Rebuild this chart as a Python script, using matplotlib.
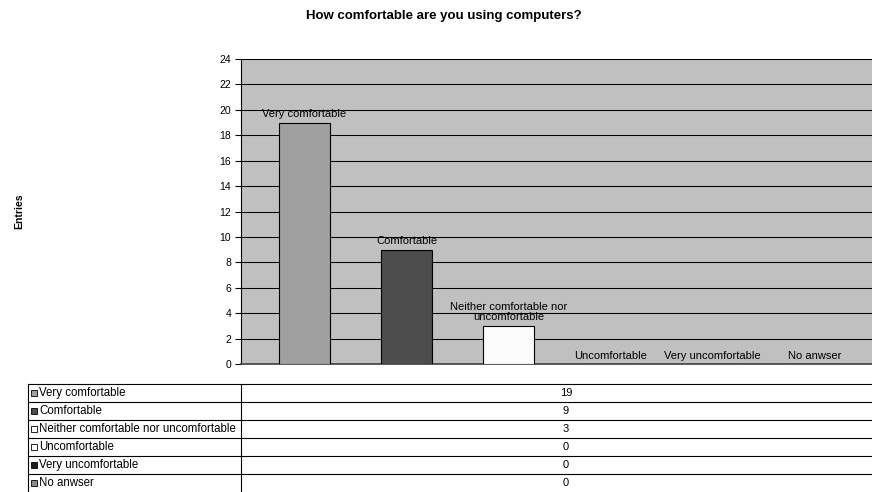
import matplotlib.pyplot as plt
from matplotlib.patches import Rectangle

plt.rcParams['font.family'] = ['Liberation Sans', 'DejaVu Sans']

# данные
categories = ["Very comfortable", "Comfortable", "Neither comfortable nor uncomfortable",
              "Uncomfortable", "Very uncomfortable", "No anwser"]
bar_labels = ["Very comfortable", "Comfortable", "Neither comfortable nor\nuncomfortable",
              "Uncomfortable", "Very uncomfortable", "No anwser"]
entries = [19, 9, 3, 0, 0, 0]
colors = ["#a0a0a0", "#4d4d4d", "#fcfcfc", "#ffffff", "#1e1e1e", "#8c8c8c"]
yticks = list(range(0, 25, 2))

W, H = 872, 492
fig = plt.figure(figsize=(W / 100, H / 100), dpi=100)

# основная область графика
ax = fig.add_axes([241 / W, 1 - 364 / H, (W - 241) / W, (364 - 59) / H])
ax.set_facecolor("#c0c0c0")
x = list(range(len(categories)))
bars = ax.bar(x, entries, width=0.5, color=colors, edgecolor="black", linewidth=0.8, zorder=3)
ax.set_xlim(-0.623, 5.564)
ax.set_ylim(0, 24)
ax.set_yticks(yticks)
ax.yaxis.grid(True, color="black", linewidth=0.75, zorder=1)
ax.set_axisbelow(True)
ax.set_xticks([])
ax.tick_params(axis="y", direction="out", length=4, width=0.8, labelsize=7.5, pad=3)
for s in ["top", "right"]:
    ax.spines[s].set_visible(False)
ax.spines["left"].set_color("black")
ax.spines["left"].set_linewidth(0.8)
ax.spines["bottom"].set_color("#404040")
ax.spines["bottom"].set_linewidth(1.2)

for xi, v, lab in zip(x, entries, bar_labels):
    ax.annotate(lab, (xi, v), xytext=(0, 2.5), textcoords="offset points",
                ha="center", va="bottom", fontsize=8, linespacing=1.0, zorder=4)

fig.text(444 / W, 1 - 16 / H, "How comfortable are you using computers?",
         ha="center", va="center", fontsize=9.5, fontweight="bold")
fig.text(19 / W, 1 - 211 / H, "Entries", ha="center", va="center",
         rotation=90, fontsize=7.5, fontweight="bold")

# таблица данных
tax = fig.add_axes([0, 0, 1, 1])
tax.set_xlim(0, W)
tax.set_ylim(H, 0)
tax.axis("off")
row_h = 18
top = 384
for i, (cat, v, c) in enumerate(zip(categories, entries, colors)):
    y0 = top + i * row_h
    tax.plot([28, W], [y0, y0], color="black", linewidth=0.8)
    tax.add_patch(Rectangle((31, y0 + 6), 6, 6, facecolor=c, edgecolor="black", linewidth=0.6))
    tax.text(39, y0 + row_h / 2, cat, ha="left", va="center", fontsize=8.3)
    tax.text(566, y0 + row_h / 2, str(v), ha="center", va="center", fontsize=8)
tax.plot([28, 28], [top, H], color="black", linewidth=0.8)
tax.plot([241, 241], [top, H], color="black", linewidth=0.8)

fig.savefig("out.png", dpi=100)
